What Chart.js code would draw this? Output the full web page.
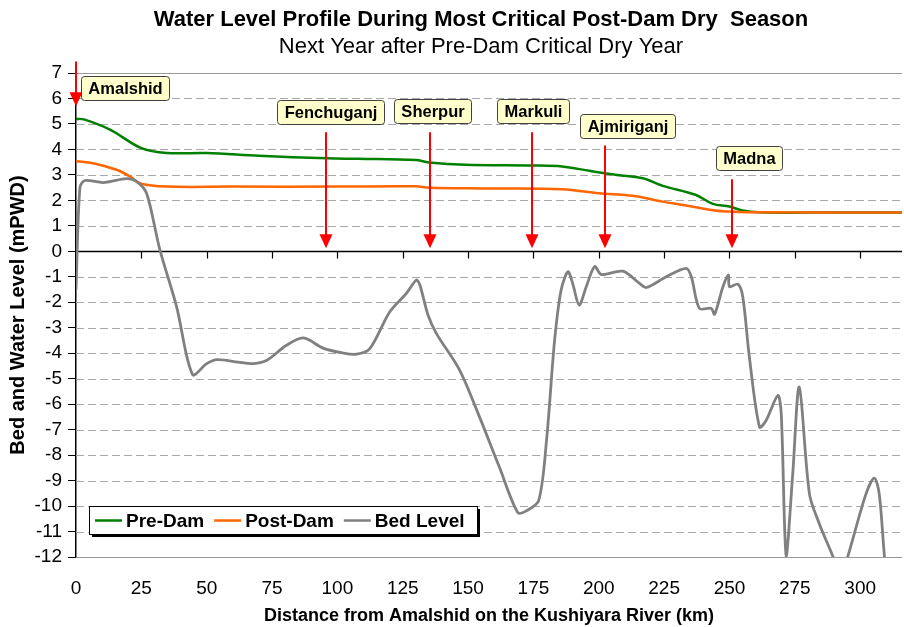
<!DOCTYPE html>
<html>
<head>
<meta charset="utf-8">
<title>Water Level Profile - Kushiyara River</title>
<script src="https://cdn.jsdelivr.net/npm/chart.js@4.4.1/dist/chart.umd.min.js"></script>
<style>
  html, body { margin: 0; padding: 0; background: #fff; }
  canvas { display: block; }
</style>
</head>
<body>
<canvas id="profileChart" width="904" height="627"></canvas>
<script>
// distances in km from Amalshid, levels in mPWD
const preDamKm    = [0, 3, 13, 25, 34.7, 50, 70, 96, 108, 130, 135, 149, 175, 186, 196.5, 207, 216.9, 224.5, 237, 243.6, 250, 255, 261.5, 280, 316];
const preDamLevel = [5.2, 5.18, 4.78, 4.05, 3.86, 3.86, 3.75, 3.65, 3.63, 3.58, 3.49, 3.4, 3.37, 3.33, 3.16, 3.0, 2.87, 2.57, 2.22, 1.86, 1.76, 1.6, 1.53, 1.52, 1.52];

const postDamKm    = [0, 6.6, 15.5, 20.6, 25, 34.7, 60, 100, 130, 135, 155.7, 186, 200, 213, 224.5, 233.4, 242.4, 248.7, 260, 316];
const postDamLevel = [3.54, 3.46, 3.2, 2.94, 2.65, 2.54, 2.54, 2.54, 2.55, 2.5, 2.47, 2.44, 2.28, 2.18, 1.95, 1.8, 1.63, 1.56, 1.53, 1.52];

const bedKm = [0, 1.5, 3.4, 10.4, 19.4, 23.2, 27, 32, 38.5, 44.6, 50, 54, 62, 68, 73, 80.5, 87, 94.5, 102, 107.3,
  112.4, 120, 126.4, 130.2, 131.5, 134.7, 137.9, 146.8, 154.4, 162, 169, 172.3, 177, 180, 183.1, 185.6, 188.2, 190,
  192.5, 195.2, 198.4, 201, 209.2, 215.6, 218.2, 225.8, 233.4, 235.4, 238.5, 243, 244.3, 247.5, 249.6, 250, 253.2,
  255.1, 257.6, 261.5, 264, 268.5, 269.8, 271.7, 274.2, 276.7, 280.6, 284.4, 289.5, 292.5, 295.2, 302.2, 305.4,
  307.3, 309.3, 310.5];
const bedLevel = [-1.5, 2.5, 2.78, 2.7, 2.85, 2.74, 2.28, 0.1, -2.18, -4.84, -4.41, -4.25, -4.35, -4.41, -4.28, -3.69, -3.4, -3.8, -3.99, -4.04,
  -3.82, -2.38, -1.65, -1.13, -1.3, -2.51, -3.23, -4.67, -6.51, -8.48, -10.25, -10.19, -9.79, -7.43, -3.49, -1.52, -0.8, -1.26,
  -2.11, -1.39, -0.6, -0.91, -0.78, -1.26, -1.42, -1.0, -0.67, -1.0, -2.24, -2.24, -2.47, -1.39, -0.93, -1.39, -1.29,
  -1.79, -4.15, -6.9, -6.64, -5.66, -6.38, -11.96, -8.74, -5.33, -9.53, -10.7, -11.96, -12.8, -12.0, -9.53, -8.9,
  -9.53, -12.0, -13];

const seriesNames = ['Pre-Dam', 'Post-Dam', 'Bed Level'];
const seriesColors = ['#008000', '#FF6600', '#808080'];

// gauging stations marked along the river
const stations  = ['Amalshid', 'Fenchuganj', 'Sherpur', 'Markuli', 'Ajmiriganj', 'Madna'];
const stationKm = [0, 95.8, 135.3, 174.6, 202.2, 250.9];

const xTicks = [0, 25, 50, 75, 100, 125, 150, 175, 200, 225, 250, 275, 300];
const yMin = -12, yMax = 7;

// callout placement (arrow start/end level, label centre)
const callouts = [
  { top: 7.45, tip: 5.69, boxKm: 18.8,  boxLevel: 6.4 },
  { top: 4.67, tip: 0.12, boxKm: 97.3,  boxLevel: 5.48 },
  { top: 4.67, tip: 0.12, boxKm: 136.5, boxLevel: 5.51 },
  { top: 4.67, tip: 0.12, boxKm: 174.7, boxLevel: 5.51 },
  { top: 4.15, tip: 0.12, boxKm: 211,   boxLevel: 4.93 },
  { top: 2.83, tip: 0.12, boxKm: 257.5, boxLevel: 3.67 }
];

const FONT = '"Liberation Sans", Arial, sans-serif';

const toPoints = (xs, ys) => xs.map((x, i) => ({ x: x, y: ys[i] }));

// dashed grid, plot border lines and the zero axis with its tick marks
const gridPlugin = {
  id: 'profileGrid',
  beforeDatasetsDraw(chart) {
    const { ctx, chartArea: a, scales: { x, y } } = chart;
    ctx.save();
    ctx.lineWidth = 1;
    for (let v = yMin; v <= yMax; v++) {
      if (v === 0) continue;
      const py = Math.round(y.getPixelForValue(v)) + 0.5;
      if (v === yMin || v === yMax) {
        ctx.setLineDash([]);
        ctx.strokeStyle = '#999';
      } else {
        ctx.setLineDash([8, 4]);
        ctx.strokeStyle = '#a8a8a8';
      }
      ctx.beginPath();
      ctx.moveTo(a.left, py);
      ctx.lineTo(a.right, py);
      ctx.stroke();
    }
    ctx.setLineDash([]);
    const y0 = Math.round(y.getPixelForValue(0)) + 0.5;
    ctx.strokeStyle = '#000';
    ctx.lineWidth = 1.5;
    ctx.beginPath();
    ctx.moveTo(a.left, y0);
    ctx.lineTo(a.right, y0);
    ctx.stroke();
    ctx.lineWidth = 1.2;
    xTicks.forEach(t => {
      const px = Math.round(x.getPixelForValue(t)) + 0.5;
      ctx.beginPath();
      ctx.moveTo(px, y0);
      ctx.lineTo(px, y0 + 7);
      ctx.stroke();
    });
    ctx.restore();
  }
};

function drawArrow(ctx, px, yTop, yTip) {
  const head = 14, half = 6.5;
  ctx.strokeStyle = '#FF0000';
  ctx.fillStyle = '#FF0000';
  ctx.lineWidth = 2;
  ctx.beginPath();
  ctx.moveTo(px, yTop);
  ctx.lineTo(px, yTip - head + 1);
  ctx.stroke();
  ctx.beginPath();
  ctx.moveTo(px - half, yTip - head);
  ctx.lineTo(px + half, yTip - head);
  ctx.lineTo(px, yTip);
  ctx.closePath();
  ctx.fill();
}

function roundRect(ctx, x, y, w, h, r) {
  ctx.beginPath();
  ctx.moveTo(x + r, y);
  ctx.lineTo(x + w - r, y);
  ctx.quadraticCurveTo(x + w, y, x + w, y + r);
  ctx.lineTo(x + w, y + h - r);
  ctx.quadraticCurveTo(x + w, y + h, x + w - r, y + h);
  ctx.lineTo(x + r, y + h);
  ctx.quadraticCurveTo(x, y + h, x, y + h - r);
  ctx.lineTo(x, y + r);
  ctx.quadraticCurveTo(x, y, x + r, y);
  ctx.closePath();
}

// station arrows and their name boxes
const calloutPlugin = {
  id: 'stationCallouts',
  afterDatasetsDraw(chart) {
    const { ctx, scales: { x, y } } = chart;
    ctx.save();
    ctx.font = 'bold 16.5px ' + FONT;
    ctx.textAlign = 'center';
    ctx.textBaseline = 'middle';
    stations.forEach((name, i) => {
      const c = callouts[i];
      const px = Math.round(x.getPixelForValue(stationKm[i]));
      drawArrow(ctx, px, y.getPixelForValue(c.top), y.getPixelForValue(c.tip));
    });
    stations.forEach((name, i) => {
      const c = callouts[i];
      const cx = x.getPixelForValue(c.boxKm);
      const cy = y.getPixelForValue(c.boxLevel);
      const w = Math.round(ctx.measureText(name).width + 14);
      const h = 24;
      const bx = Math.round(cx - w / 2) + 0.5;
      const by = Math.round(cy - h / 2) + 0.5;
      roundRect(ctx, bx, by, w, h, 3);
      ctx.fillStyle = '#FFFFCC';
      ctx.fill();
      ctx.strokeStyle = '#404040';
      ctx.lineWidth = 1;
      ctx.stroke();
      ctx.fillStyle = '#000';
      ctx.fillText(name, bx + w / 2, by + h / 2 + 1);
    });
    ctx.restore();
  }
};

// boxed legend inside the plot, lower left
const legendPlugin = {
  id: 'boxLegend',
  afterDatasetsDraw(chart) {
    const { ctx, chartArea: a } = chart;
    const left = a.left + 13, top = a.bottom - 51, w = 388, h = 28;
    ctx.save();
    ctx.fillStyle = '#000';
    ctx.fillRect(left + 3, top + 3, w, h);
    ctx.fillStyle = '#fff';
    ctx.fillRect(left, top, w, h);
    ctx.strokeStyle = '#000';
    ctx.lineWidth = 1;
    ctx.strokeRect(left + 0.5, top + 0.5, w, h);
    ctx.font = 'bold 19px ' + FONT;
    ctx.textBaseline = 'middle';
    ctx.textAlign = 'left';
    const cy = top + h / 2 + 0.5;
    let px = left + 6;
    seriesNames.forEach((name, i) => {
      ctx.strokeStyle = seriesColors[i];
      ctx.lineWidth = 2.5;
      ctx.beginPath();
      ctx.moveTo(px, cy);
      ctx.lineTo(px + 27, cy);
      ctx.stroke();
      ctx.fillStyle = '#000';
      ctx.fillText(name, px + 31, cy + 1);
      px += 31 + ctx.measureText(name).width + 10;
    });
    ctx.restore();
  }
};

// chart title and subtitle
const titlePlugin = {
  id: 'profileTitle',
  afterDraw(chart) {
    const { ctx } = chart;
    ctx.save();
    ctx.fillStyle = '#000';
    ctx.textAlign = 'center';
    ctx.textBaseline = 'middle';
    ctx.font = 'bold 22px ' + FONT;
    ctx.fillText('Water Level Profile During Most Critical Post-Dam Dry  Season', 481, 20);
    ctx.font = '22px ' + FONT;
    ctx.fillText('Next Year after Pre-Dam Critical Dry Year', 481, 47);
    ctx.restore();
  }
};

const ctx = document.getElementById('profileChart').getContext('2d');

new Chart(ctx, {
  type: 'line',
  data: {
    datasets: [
      {
        label: seriesNames[0],
        data: toPoints(preDamKm, preDamLevel),
        borderColor: seriesColors[0],
        borderWidth: 2.5,
        tension: 0.35,
        pointRadius: 0,
        order: 2
      },
      {
        label: seriesNames[1],
        data: toPoints(postDamKm, postDamLevel),
        borderColor: seriesColors[1],
        borderWidth: 2.5,
        tension: 0.35,
        pointRadius: 0,
        order: 1
      },
      {
        label: seriesNames[2],
        data: toPoints(bedKm, bedLevel),
        borderColor: seriesColors[2],
        borderWidth: 2.8,
        tension: 0.3,
        pointRadius: 0,
        order: 0
      }
    ]
  },
  options: {
    responsive: false,
    animation: false,
    devicePixelRatio: 1,
    layout: { padding: { top: 73, right: 2, bottom: 0, left: 0 } },
    plugins: {
      legend: { display: false },
      tooltip: { enabled: false },
      title: { display: false }
    },
    scales: {
      x: {
        type: 'linear',
        min: 0,
        max: 316,
        afterFit: s => { s.height = 70; },
        afterBuildTicks: s => { s.ticks = xTicks.map(v => ({ value: v })); },
        grid: { display: false, drawTicks: false },
        border: { display: false },
        ticks: {
          autoSkip: false,
          maxRotation: 0,
          padding: 20,
          color: '#000',
          font: { family: FONT, size: 19 }
        },
        title: {
          display: true,
          text: 'Distance from Amalshid on the Kushiyara River (km)',
          color: '#000',
          font: { family: FONT, size: 18, weight: 'bold' },
          padding: { top: 0, bottom: 0 }
        }
      },
      y: {
        type: 'linear',
        min: yMin,
        max: yMax,
        afterFit: s => { s.width = 76; },
        grid: {
          display: true,
          drawOnChartArea: false,
          drawTicks: true,
          tickLength: 8,
          color: '#000',
          tickWidth: 1
        },
        border: { display: true, color: '#000', width: 1.5 },
        ticks: {
          stepSize: 1,
          autoSkip: false,
          padding: 6,
          color: '#000',
          font: { family: FONT, size: 19 }
        },
        title: {
          display: true,
          text: 'Bed and Water Level (mPWD)',
          color: '#000',
          font: { family: FONT, size: 20, weight: 'bold' },
          padding: { top: 6, bottom: 0 }
        }
      }
    }
  },
  plugins: [gridPlugin, calloutPlugin, legendPlugin, titlePlugin]
});
</script>
</body>
</html>
